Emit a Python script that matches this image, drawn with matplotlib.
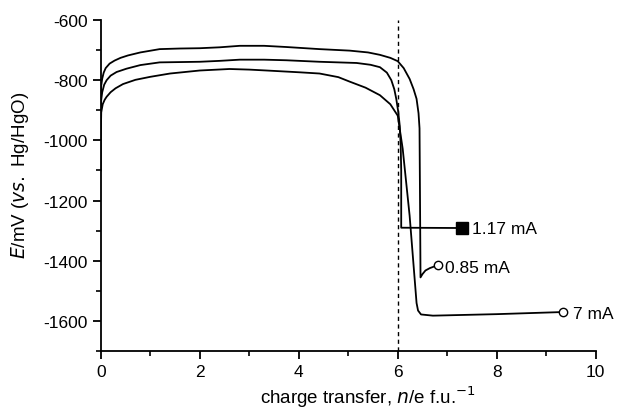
import numpy as np
import matplotlib
matplotlib.use('Agg')
import matplotlib.pyplot as plt

plt.rcParams['font.family'] = ['Liberation Sans', 'DejaVu Sans']
plt.rcParams['axes.unicode_minus'] = False

# 0.85 mA (top curve)
x_085 = [0.0, 0.01, 0.03, 0.06, 0.1, 0.18, 0.28, 0.4, 0.55, 0.8, 1.19, 1.6, 2.0, 2.4, 2.81, 3.3,
         3.75, 4.42, 5.03, 5.4, 5.64, 5.85, 6.0, 6.12, 6.24, 6.32, 6.38, 6.42, 6.44, 6.45, 6.46,
         6.5, 6.56, 6.65, 6.75, 6.81]
y_085 = [-850, -818, -795, -775, -760, -745, -735, -726, -718, -708, -697, -695, -694, -691, -686, -686,
         -690, -697, -702, -708, -716, -726, -737, -760, -796, -830, -862, -910, -960, -1200, -1455,
         -1444, -1432, -1424, -1418, -1414]

# 1.17 mA (middle curve)
x_117 = [0.0, 0.01, 0.03, 0.07, 0.12, 0.2, 0.32, 0.52, 0.8, 1.19, 1.6, 2.0, 2.4, 2.81, 3.3, 3.75,
         4.42, 5.17, 5.45, 5.64, 5.78, 5.87, 5.93, 5.97, 6.01, 6.04, 6.06, 6.07, 6.07, 7.29]
y_117 = [-900, -865, -840, -815, -800, -785, -773, -762, -750, -741, -740, -739, -736, -732, -732, -734,
         -739, -743, -749, -757, -775, -800, -830, -862, -905, -951, -1020, -1100, -1290, -1291]

# 7 mA (bottom curve)
x_7 = [0.0, 0.0, 0.01, 0.04, 0.08, 0.12, 0.2, 0.3, 0.45, 0.7, 1.0, 1.4, 2.0, 2.6, 3.0, 3.35, 4.02,
       4.42, 4.8, 5.03, 5.35, 5.64, 5.85, 6.0, 6.1, 6.24, 6.38, 6.41, 6.47, 6.71, 8.0, 9.33]
y_7 = [-1100, -1000, -907, -880, -865, -855, -840, -827, -813, -799, -789, -778, -768, -763, -765, -768, -774,
       -778, -790, -805, -825, -850, -880, -918, -1028, -1250, -1540, -1565, -1578, -1582, -1577, -1570]

labels = ['0.85 mA', '1.17 mA', '7 mA']

fig = plt.figure(figsize=(6.18, 4.10), dpi=100)
ax = fig.add_axes([0.163, 0.141, 0.801, 0.808])

lw = 1.3
ax.plot(x_085, y_085, color='black', lw=lw)
ax.plot(x_085[-1], y_085[-1], 'o', mfc='white', mec='black', ms=6, mew=1)
ax.plot(x_117, y_117, color='black', lw=lw)
ax.plot(x_117[-1], y_117[-1], 's', color='black', ms=8.5)
ax.plot(x_7, y_7, color='black', lw=lw)
ax.plot(x_7[-1], y_7[-1], 'o', mfc='white', mec='black', ms=6, mew=1)

ax.text(x_117[-1] + 0.2, y_117[-1], labels[1], fontsize=12.5, va='center')
ax.text(x_085[-1] + 0.14, y_085[-1] - 8, labels[0], fontsize=12.5, va='center')
ax.text(x_7[-1] + 0.22, y_7[-1] - 6, labels[2], fontsize=12.5, va='center')

ax.axvline(6, color='black', lw=1, ls=(0, (3, 2.5)))

ax.set_xlim(0, 10)
ax.set_ylim(-1700, -600)
ax.set_xticks(np.arange(0, 11, 2))
ax.set_xticks(np.arange(0, 11, 1), minor=True)
ax.set_yticks(np.arange(-1600, -599, 200))
ax.set_yticks(np.arange(-1700, -599, 100), minor=True)
ax.spines['top'].set_visible(False)
ax.spines['right'].set_visible(False)
ax.spines['left'].set_linewidth(1.3)
ax.spines['bottom'].set_linewidth(1.3)
ax.tick_params(which='major', direction='out', length=6, width=1.3, labelsize=12.5)
ax.tick_params(which='minor', direction='out', length=3.5, width=1.2)

ax.set_xlabel(r'charge transfer, $\mathit{n}$/e f.u.$^{-1}$', fontsize=13.5)
ax.xaxis.set_label_coords(0.54, -0.098)
ax.set_ylabel(r'$\mathit{E}$/mV ($\mathit{vs.}$ Hg/HgO)', fontsize=13.5)
ax.yaxis.set_label_coords(-0.14, 0.535)

fig.savefig('out.png', dpi=100)
